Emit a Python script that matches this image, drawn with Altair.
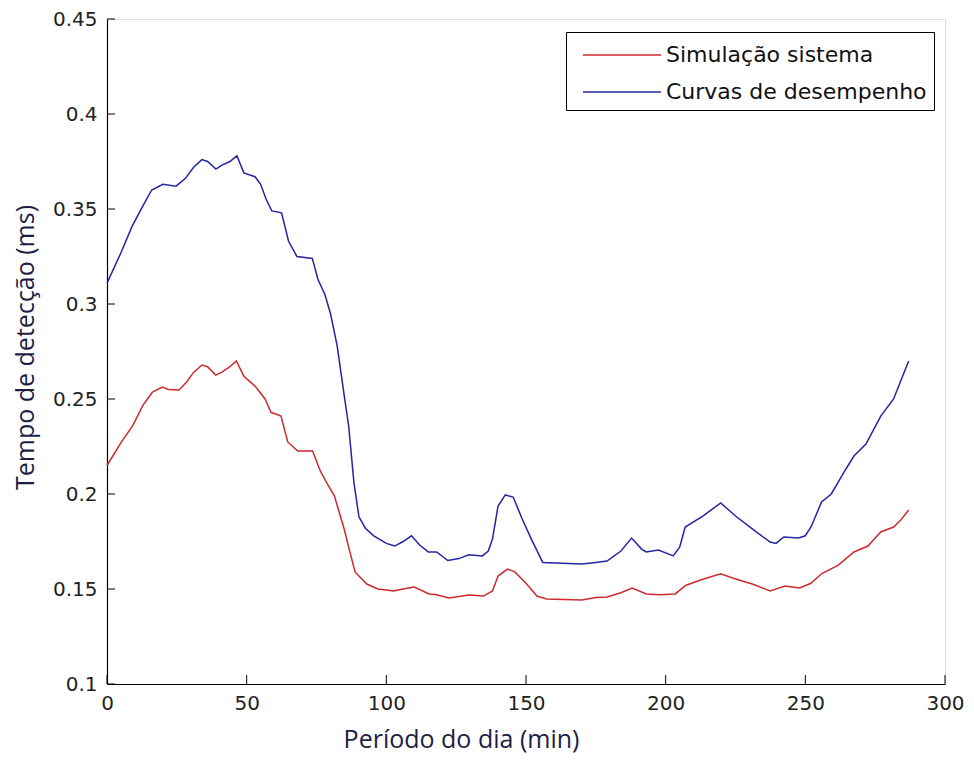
import altair as alt
import pandas as pd

blue_x = [0, 5, 9, 13, 16, 20, 24.7, 28, 31, 34, 36, 39, 41, 44, 46.5, 49, 53, 55, 57, 59,
          62.5, 65, 68, 73.5, 75.5, 78, 80, 82.4, 84.9, 86.5, 88.4, 90.2, 92.5, 95.5, 100,
          103, 106, 109, 112, 115, 118, 122, 126, 129.5, 134.4, 136.5, 138, 140, 142.6,
          145.4, 148.6, 152, 156, 170, 175, 179, 184, 187.8, 191.4, 193, 197.4, 202.7, 205,
          207, 213.3, 219.7, 225, 231, 237.4, 239.5, 242.3, 247.6, 250, 252.2, 255.8, 259.3,
          263.9, 267.4, 271.7, 277, 281.6, 284, 287]
blue_y = [0.311, 0.327, 0.341, 0.352, 0.360, 0.363, 0.362, 0.366, 0.372, 0.376, 0.375, 0.371,
          0.373, 0.375, 0.378, 0.369, 0.367, 0.363, 0.355, 0.349, 0.348, 0.333, 0.325, 0.324,
          0.313, 0.305, 0.295, 0.278, 0.252, 0.236, 0.206, 0.188, 0.182, 0.178, 0.174, 0.1726,
          0.175, 0.178, 0.173, 0.1695, 0.1695, 0.165, 0.166, 0.168, 0.1674, 0.170, 0.1763,
          0.1937, 0.1995, 0.1984, 0.187, 0.176, 0.164, 0.1632, 0.164, 0.1647, 0.170, 0.1768,
          0.171, 0.1695, 0.1705, 0.1674, 0.172, 0.1826, 0.1884, 0.1953, 0.1884, 0.1816,
          0.1747, 0.174, 0.1774, 0.1768, 0.178, 0.1832, 0.1958, 0.200, 0.2116, 0.220, 0.2263,
          0.241, 0.250, 0.259, 0.270]

red_x = [0, 5, 9.2, 13, 16.3, 19.8, 22, 25.8, 28.5, 31, 34, 36, 38.9, 41, 44, 46.3, 49, 53,
         56.6, 58.7, 62.3, 64.7, 68.3, 73.6, 76.4, 79, 81.4, 84.9, 86.7, 88.8, 93, 97, 102.6,
         106, 110, 115.3, 118, 122.4, 126, 129.5, 134.8, 138, 140, 143.3, 146, 150, 153.9,
         157.4, 170, 175, 179, 184, 188, 193.1, 198, 203.4, 207.3, 213, 219.7, 225, 231,
         237.4, 242.7, 248, 252, 255.8, 261.8, 267.4, 272.4, 277, 281.6, 284, 287]
red_y = [0.215, 0.227, 0.236, 0.247, 0.2537, 0.2563, 0.255, 0.2547, 0.259, 0.264, 0.2679,
         0.267, 0.2626, 0.264, 0.267, 0.270, 0.262, 0.2568, 0.250, 0.243, 0.241, 0.2274,
         0.2226, 0.2226, 0.212, 0.205, 0.199, 0.1816, 0.171, 0.159, 0.1526, 0.150, 0.149,
         0.150, 0.151, 0.1474, 0.147, 0.1453, 0.146, 0.1468, 0.1463, 0.149, 0.1568, 0.1605,
         0.159, 0.153, 0.1463, 0.1447, 0.1442, 0.1455, 0.1458, 0.148, 0.1505, 0.1474, 0.147,
         0.1474, 0.152, 0.155, 0.158, 0.1553, 0.1526, 0.149, 0.1516, 0.1505, 0.153, 0.158,
         0.1626, 0.1695, 0.1726, 0.180, 0.1826, 0.186, 0.1916]

series_names = ["Simulação sistema", "Curvas de desempenho"]
series_colors = ["#cc2a30", "#2424a4"]

x_ticks = [0, 50, 100, 150, 200, 250, 300]
y_ticks = [0.1, 0.15, 0.2, 0.25, 0.3, 0.35, 0.4, 0.45]

df = pd.concat([
    pd.DataFrame({"t": red_x, "v": red_y, "s": series_names[0], "o": 0}),
    pd.DataFrame({"t": blue_x, "v": blue_y, "s": series_names[1], "o": 1}),
])

W, H = 838, 665

xs = alt.Scale(domain=[0, 300], nice=False)
ys = alt.Scale(domain=[0.1, 0.45], nice=False, zero=False)

label_font = "DejaVu Sans"
title_font = "Open Sans"
title_color = "#1e1e44"

lines = alt.Chart(df).mark_line(strokeWidth=1.5).encode(
    x=alt.X("t:Q", scale=xs, axis=alt.Axis(
        title="Período do dia (min)", values=x_ticks, ticks=False, grid=False,
        labelFlush=False, labelOverlap=False,
        domainColor="#000", domainWidth=1.2, labelFont=label_font, labelFontSize=20,
        labelColor="#222", labelPadding=9, titleFont=title_font, titleFontSize=25,
        titleFontWeight="normal", titleColor=title_color,
        titleX=354, titleY=63, titleAlign="center", titleBaseline="alphabetic")),
    y=alt.Y("v:Q", scale=ys, axis=alt.Axis(
        title="Tempo de detecção (ms)", values=y_ticks, ticks=False, grid=False,
        labelFlush=False, labelOverlap=False,
        format="~g", domainColor="#000", domainWidth=1.2, labelFont=label_font,
        labelFontSize=20, labelColor="#222", labelPadding=10, titleFont=title_font,
        titleFontSize=25, titleFontWeight="normal", titleColor=title_color,
        titleX=-82, titleY=328, titleAlign="center", titleBaseline="middle", titleAngle=270)),
    color=alt.Color("s:N", scale=alt.Scale(domain=series_names, range=series_colors),
                    sort=series_names,
                    legend=alt.Legend(
                        title=None, orient="none", legendX=459, legendY=13,
                        symbolType="M-1,0H4.2", symbolSize=900, symbolStrokeWidth=1.5,
                        symbolFillColor="transparent", symbolOffset=9,
                        labelFont=label_font, labelFontSize=22, labelColor="#111",
                        strokeColor="#000", padding=7, rowPadding=10,
                        labelOffset=52, labelLimit=400)),
    order="o:Q",
    detail="s:N",
)

xt = pd.DataFrame({"t": x_ticks})
yt = pd.DataFrame({"v": y_ticks})

x_tick_rules = alt.Chart(xt).mark_rule(color="#000", strokeWidth=1).encode(
    x=alt.X("t:Q", scale=xs), y=alt.value(H), y2=alt.value(H - 9))
y_tick_rules = alt.Chart(yt).mark_rule(color="#000", strokeWidth=1).encode(
    y=alt.Y("v:Q", scale=ys), x=alt.value(0), x2=alt.value(8))

chart = alt.layer(lines, x_tick_rules, y_tick_rules).properties(
    width=W, height=H,
    autosize=alt.AutoSizeParams(type="none"),
    padding={"left": 99, "top": 11, "right": 21, "bottom": 70},
).configure_view(stroke=None).configure(background="#ffffff")

chart.save("out.html", embed_options={"renderer": "svg", "actions": False})
